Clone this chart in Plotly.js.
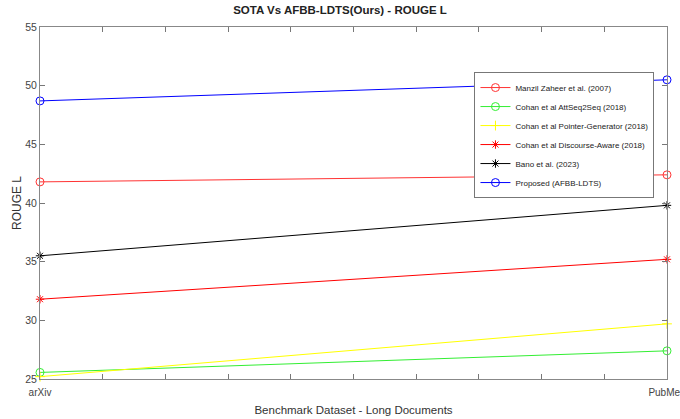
<!DOCTYPE html>
<html><head><meta charset="utf-8">
<script src="https://cdn.plot.ly/plotly-3.0.1.min.js"></script>
<style>html,body{margin:0;padding:0;background:#fff;overflow:hidden}#c{width:680px;height:419px}</style>
</head><body><div id="c"></div>
<script>
const datasets = ['arXiv', 'PubMed'];
const xPos = [0, 1];
const manzil = [41.8, 42.4];
const attSeq2Seq = [25.56, 27.4];
const pointerGen = [25.2, 29.7];
const discourseAware = [31.8, 35.2];
const bano = [35.5, 39.8];
const proposed = [48.7, 50.5];

const names = ['Manzil Zaheer et al. (2007)', 'Cohan et al AttSeq2Seq (2018)', 'Cohan et al Pointer-Generator (2018)',
  'Cohan et al Discourse-Aware (2018)', 'Bano et al. (2023)', 'Proposed (AFBB-LDTS)'];
const series = [manzil, attSeq2Seq, pointerGen, discourseAware, bano, proposed];
const colors = ['#ff3333', '#33ee33', '#ffff00', '#ff0000', '#000000', '#0000ff'];
const symbols = ['circle-open', 'circle-open', 'cross-thin-open', 'asterisk-open', 'asterisk-open', 'circle-open'];

const traces = series.map((s, i) => ({
  x: xPos, y: s, name: names[i], type: 'scatter', mode: 'lines+markers', cliponaxis: false,
  line: {color: colors[i], width: 1},
  marker: {symbol: symbols[i], size: symbols[i] === 'circle-open' ? 8 : 7, color: colors[i], line: {color: colors[i], width: 1}}
}));

const font = 'Liberation Sans, Arial, sans-serif';
Plotly.newPlot('c', traces, {
  width: 680, height: 419,
  margin: {l: 40, r: 13, t: 27, b: 40},
  paper_bgcolor: '#fff', plot_bgcolor: '#fff',
  title: {text: '<b>SOTA Vs AFBB-LDTS(Ours) - ROUGE L</b>', font: {family: font, size: 11.5, color: '#222'}, x: 0.5, xanchor: 'center', y: 0.985, yanchor: 'top'},
  xaxis: {
    automargin: false, ticklabeloverflow: 'allow',
    range: [0, 1], tickvals: xPos, ticktext: datasets, ticks: 'inside', ticklen: 5, tickcolor: '#777',
    showline: true, linecolor: '#888', linewidth: 1, mirror: 'ticks', showgrid: false, zeroline: false,
    minor: {dtick: 0.1, tick0: 0, ticks: 'inside', ticklen: 5, tickcolor: '#777', showgrid: false},
    ticklabelstandoff: 4,
    tickfont: {family: font, size: 10, color: '#444'},
    title: {text: 'Benchmark Dataset - Long Documents', font: {family: font, size: 11.5, color: '#333'}, standoff: 8}
  },
  yaxis: {
    automargin: false,
    range: [25, 55], dtick: 5, tick0: 25, ticks: 'inside', ticklen: 5, tickcolor: '#777',
    showline: true, linecolor: '#888', linewidth: 1, mirror: 'ticks', showgrid: false, zeroline: false,
    tickfont: {family: font, size: 10.5, color: '#444'},
    title: {text: 'ROUGE L', font: {family: font, size: 12, color: '#333'}, standoff: 1}
  },
  legend: {x: 0.98, y: 0.872, xanchor: 'right', yanchor: 'top', bgcolor: '#fff', bordercolor: '#777', borderwidth: 1,
    font: {family: font, size: 8, color: '#222'}, tracegroupgap: 0, itemwidth: 30},
  showlegend: true
}, {displayModeBar: false, staticPlot: true});
</script></body></html>
